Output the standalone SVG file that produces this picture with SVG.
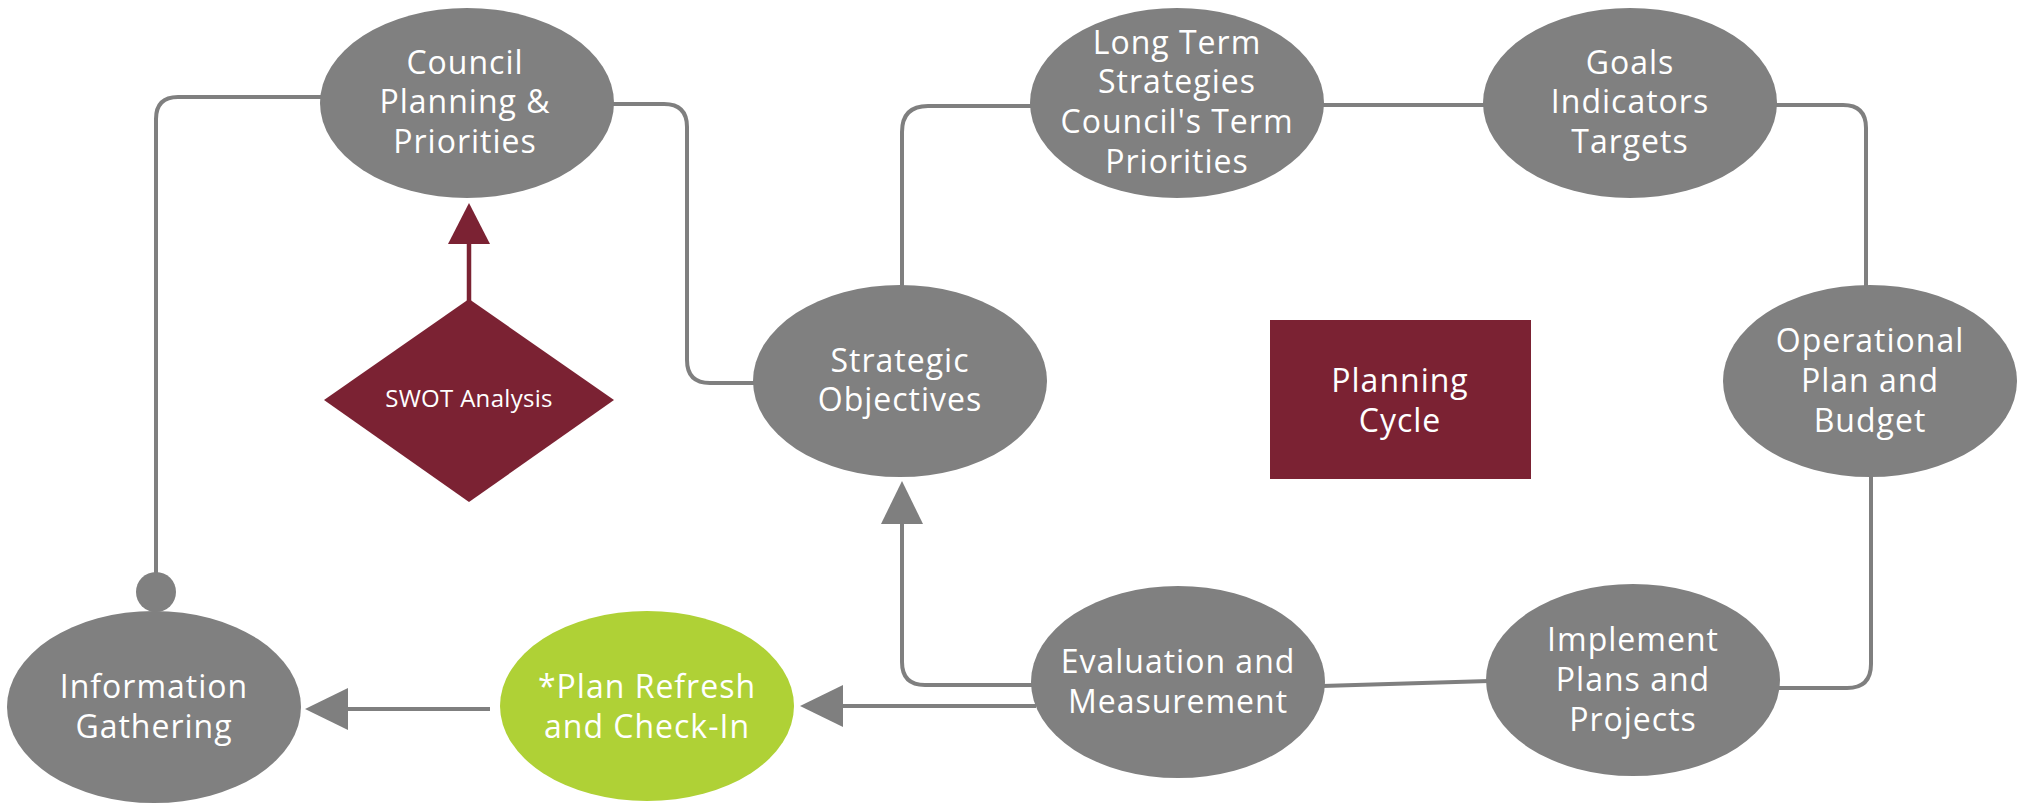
<svg xmlns="http://www.w3.org/2000/svg" width="2021" height="806" viewBox="0 0 2021 806">
<defs>
<style>
.node{fill:#808080}
.green{fill:#afd136}
.maroon{fill:#7b2233}
.lbl{font-family:"Open Sans","Noto Sans",sans-serif;font-size:32px;fill:#ffffff;text-anchor:middle;letter-spacing:1px}
.small{font-size:24px;letter-spacing:0.3px}
.conn{fill:none;stroke:#7f7f7f;stroke-width:4}
.connM{fill:none;stroke:#7b2233;stroke-width:4.5}
</style>
<marker id="arrG" markerUnits="userSpaceOnUse" markerWidth="44" markerHeight="42" viewBox="0 0 44 42" refX="1" refY="21" orient="auto">
<path d="M0,0 L43,21 L0,42 Z" fill="#7f7f7f"/>
</marker>
<marker id="arrM" markerUnits="userSpaceOnUse" markerWidth="44" markerHeight="42" viewBox="0 0 44 42" refX="1" refY="21" orient="auto">
<path d="M0,0 L41,21 L0,42 Z" fill="#7b2233"/>
</marker>
</defs>
<rect width="2021" height="806" fill="#ffffff"/>
<g id="connectors">
<path class="conn" d="M322,97 H178 Q156,97 156,119 V580"/>
<circle cx="156" cy="592" r="20" fill="#808080"/>
<path class="conn" d="M612,104 H664 Q687,104 687,127 V360 Q687,383 710,383 H756"/>
<path class="conn" d="M902,290 V132 Q902,106 928,106 H1034"/>
<path class="conn" d="M1322,105 H1486"/>
<path class="conn" d="M1775,105 H1843 Q1866,105 1866,128 V290"/>
<path class="conn" d="M1871,472 V664 Q1871,688 1847,688 H1776"/>
<path class="conn" d="M1489,681 L1322,686"/>
<path class="conn" d="M1034,685 H925 Q902,685 902,662 V523" marker-end="url(#arrG)"/>
<path class="conn" d="M1036,706 H842" marker-end="url(#arrG)"/>
<path class="conn" d="M490,709 H347" marker-end="url(#arrG)"/>
<path class="connM" d="M469,302 V243" marker-end="url(#arrM)"/>
</g>
<g id="council">
<ellipse class="node" cx="467" cy="103" rx="147" ry="95"/>
<text class="lbl" x="465" y="74">Council</text>
<text class="lbl" x="465" y="113">Planning &amp;</text>
<text class="lbl" x="465" y="153">Priorities</text>
</g>
<g id="longterm">
<ellipse class="node" cx="1177" cy="103" rx="147" ry="95"/>
<text class="lbl" x="1177" y="54">Long Term</text>
<text class="lbl" x="1177" y="93">Strategies</text>
<text class="lbl" x="1177" y="133">Council's Term</text>
<text class="lbl" x="1177" y="173">Priorities</text>
</g>
<g id="goals">
<ellipse class="node" cx="1630" cy="103" rx="147" ry="95"/>
<text class="lbl" x="1630" y="74">Goals</text>
<text class="lbl" x="1630" y="113">Indicators</text>
<text class="lbl" x="1630" y="153">Targets</text>
</g>
<g id="strategic">
<ellipse class="node" cx="900" cy="381" rx="147" ry="96"/>
<text class="lbl" x="900" y="372">Strategic</text>
<text class="lbl" x="900" y="411">Objectives</text>
</g>
<g id="planningcycle">
<rect class="maroon" x="1270" y="320" width="261" height="159"/>
<text class="lbl" x="1400" y="392">Planning</text>
<text class="lbl" x="1400" y="432">Cycle</text>
</g>
<g id="operational">
<ellipse class="node" cx="1870" cy="381" rx="147" ry="96"/>
<text class="lbl" x="1870" y="352">Operational</text>
<text class="lbl" x="1870" y="392">Plan and</text>
<text class="lbl" x="1870" y="432">Budget</text>
</g>
<g id="swot">
<polygon class="maroon" points="469,299 614,400 469,502 324,400"/>
<text class="lbl small" x="469" y="407">SWOT Analysis</text>
</g>
<g id="information">
<ellipse class="node" cx="154" cy="707" rx="147" ry="96"/>
<text class="lbl" x="154" y="698">Information</text>
<text class="lbl" x="154" y="738">Gathering</text>
</g>
<g id="planrefresh">
<ellipse class="green" cx="647" cy="706" rx="147" ry="95"/>
<text class="lbl" x="647" y="698">*Plan Refresh</text>
<text class="lbl" x="647" y="738">and Check-In</text>
</g>
<g id="evaluation">
<ellipse class="node" cx="1178" cy="682" rx="147" ry="96"/>
<text class="lbl" x="1178" y="673">Evaluation and</text>
<text class="lbl" x="1178" y="713">Measurement</text>
</g>
<g id="implement">
<ellipse class="node" cx="1633" cy="680" rx="147" ry="96"/>
<text class="lbl" x="1633" y="651">Implement</text>
<text class="lbl" x="1633" y="691">Plans and</text>
<text class="lbl" x="1633" y="731">Projects</text>
</g>
</svg>
